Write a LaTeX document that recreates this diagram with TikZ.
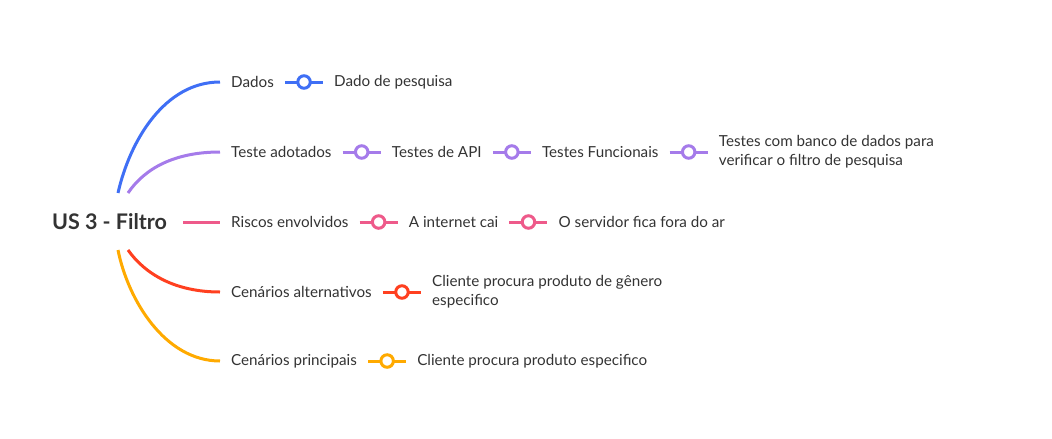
\documentclass[tikz,border=0pt]{standalone}
\usepackage{fontspec}
\setmainfont{Lato}
\usetikzlibrary{positioning}

\definecolor{txtGray}{HTML}{333333}
\definecolor{cBlue}{HTML}{3F6FF5}
\definecolor{cPurple}{HTML}{A57BEA}
\definecolor{cPink}{HTML}{EE5A8A}
\definecolor{cRed}{HTML}{FF4020}
\definecolor{cYellow}{HTML}{FFAA00}

\tikzset{
	topic/.style={anchor=west, inner xsep=11pt, inner ysep=2pt, text=txtGray, align=left, font=\fontsize{15.2}{19}\selectfont},
	rootic/.style={inner xsep=16pt, inner ysep=2pt, text=txtGray, font=\fontsize{21.5}{25}\selectfont\bfseries},
	branch/.style={line width=3pt},
	link/.style={line width=3pt},
	knob/.style={circle, draw, fill=white, line width=3pt, minimum size=12.5pt, inner sep=0pt}
}

\begin{document}
\begin{tikzpicture}[x=1pt, y=-1pt, node distance=38pt]
				\useasboundingbox (0,0) rectangle (1052,439);
				
				\node[rootic] (root) at (109.5,222) {US 3 - Filtro};
				\coordinate (rootUpA) at (118,193);
				\coordinate (rootUpB) at (128,193);
				\coordinate (rootDnB) at (128,250);
				\coordinate (rootDnA) at (118,250);
				
				\node[topic] (dados) at (220,82) {Dados};
				\node[topic] (teste) at (220,152) {Teste adotados};
				\node[topic] (riscos) at (220,222) {Riscos envolvidos};
				\node[topic] (cenAlt) at (220,292) {Cenários alternativos};
				\node[topic] (cenPri) at (220,361) {Cenários principais};
				
				\node[topic, right=of dados] (dadoPesq) {Dado de pesquisa};
				\node[topic, right=of teste] (testeApi) {Testes de API};
				\node[topic, right=of testeApi] (testeFunc) {Testes Funcionais};
				\node[topic, right=of testeFunc] (testeBanco) {Testes com banco de dados para\\verificar o filtro de pesquisa};
				\node[topic, right=of riscos] (internet) {A internet cai};
				\node[topic, right=of internet] (servidor) {O servidor fica fora do ar};
				\node[topic, right=of cenAlt] (genero) {Cliente procura produto de gênero\\especifico};
				\node[topic, right=of cenPri] (produto) {Cliente procura produto especifico};
				
				\draw[branch, cBlue] (rootUpA) .. controls (130,140) and (165,82) .. (dados.west);
				\draw[branch, cPurple] (rootUpB) .. controls (145,168) and (175,152) .. (teste.west);
				\draw[branch, cPink] (root) -- (riscos);
				\draw[branch, cRed] (rootDnB) .. controls (145,274) and (175,292) .. (cenAlt.west);
				\draw[branch, cYellow] (rootDnA) .. controls (128,300) and (165,361) .. (cenPri.west);
				
				\draw[link, cBlue] (dados) -- (dadoPesq) node[knob, midway] {};
				\draw[link, cPurple] (teste) -- (testeApi) node[knob, midway] {};
				\draw[link, cPurple] (testeApi) -- (testeFunc) node[knob, midway] {};
				\draw[link, cPurple] (testeFunc) -- (testeBanco) node[knob, midway] {};
				\draw[link, cPink] (riscos) -- (internet) node[knob, midway] {};
				\draw[link, cPink] (internet) -- (servidor) node[knob, midway] {};
				\draw[link, cRed] (cenAlt) -- (genero) node[knob, midway] {};
				\draw[link, cYellow] (cenPri) -- (produto) node[knob, midway] {};
				
\end{tikzpicture}
\end{document}
